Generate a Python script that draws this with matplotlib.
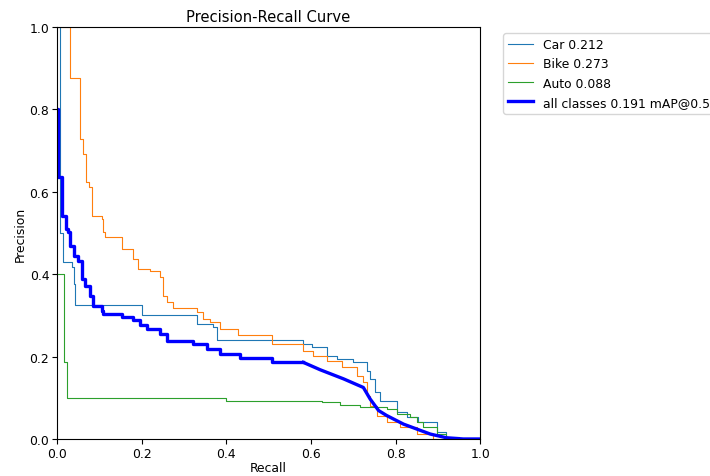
import matplotlib
matplotlib.use("Agg")
import matplotlib.pyplot as plt

# step curves (recall breakpoints, precision held until next breakpoint)
car_r = [0, 0.006, 0.014, 0.035, 0.039, 0.043, 0.2, 0.33, 0.369, 0.377, 0.582, 0.602, 0.638, 0.661,
         0.70, 0.732, 0.74, 0.752, 0.764, 0.803, 0.827, 0.853, 0.898, 0.92, 0.95, 1.0]
car_p = [1.0, 0.50, 0.43, 0.417, 0.376, 0.325, 0.30, 0.279, 0.272, 0.241, 0.23, 0.223, 0.202, 0.194,
         0.187, 0.166, 0.146, 0.114, 0.093, 0.065, 0.053, 0.041, 0.017, 0.005, 0.0, 0.0]

bike_r = [0, 0.031, 0.054, 0.061, 0.069, 0.076, 0.083, 0.106, 0.108, 0.113, 0.153, 0.18, 0.192, 0.22,
          0.243, 0.25, 0.259, 0.275, 0.33, 0.346, 0.362, 0.385, 0.428, 0.507, 0.582, 0.606, 0.638,
          0.673, 0.708, 0.723, 0.732, 0.74, 0.756, 0.779, 0.811, 0.85, 0.889, 1.0]
bike_p = [1.0, 0.876, 0.728, 0.692, 0.624, 0.612, 0.542, 0.534, 0.502, 0.49, 0.461, 0.437, 0.413, 0.409,
          0.393, 0.348, 0.332, 0.318, 0.308, 0.291, 0.283, 0.267, 0.252, 0.23, 0.214, 0.202, 0.19,
          0.175, 0.154, 0.138, 0.105, 0.081, 0.057, 0.041, 0.029, 0.012, 0.0, 0.0]

auto_r = [0, 0.0165, 0.023, 0.40, 0.626, 0.669, 0.716, 0.779, 0.803, 0.835, 0.85, 0.866, 0.898, 0.92, 1.0]
auto_p = [0.40, 0.187, 0.099, 0.093, 0.089, 0.083, 0.077, 0.073, 0.061, 0.053, 0.041, 0.029, 0.012, 0.0, 0.0]

# all classes: stepped head, smooth tail
all_r = [0, 0.003, 0.0125, 0.021, 0.027, 0.031, 0.039, 0.05, 0.058, 0.066, 0.078, 0.086, 0.106, 0.109,
         0.153, 0.18, 0.196, 0.212, 0.243, 0.259, 0.322, 0.354, 0.385, 0.433, 0.507, 0.582]
all_p = [0.80, 0.636, 0.542, 0.51, 0.502, 0.469, 0.445, 0.433, 0.388, 0.372, 0.348, 0.324, 0.311, 0.303,
         0.297, 0.288, 0.277, 0.267, 0.255, 0.239, 0.231, 0.218, 0.206, 0.197, 0.186, 0.186]
all_tail_r = [0.582, 0.622, 0.677, 0.724, 0.74, 0.76, 0.779, 0.819, 0.882, 0.92, 0.96, 1.0]
all_tail_p = [0.186, 0.168, 0.146, 0.125, 0.097, 0.069, 0.057, 0.036, 0.012, 0.003, 0.0, 0.0]

labels = ["Car 0.212", "Bike 0.273", "Auto 0.088", "all classes 0.191 mAP@0.5"]
fs = 8.9

fig = plt.figure(figsize=(7.1, 4.77), dpi=100)
ax = fig.add_axes([0.0803, 0.0776, 0.596, 0.8636])

ax.step(car_r, car_p, where="post", linewidth=0.8, color="tab:blue", label=labels[0])
ax.step(bike_r, bike_p, where="post", linewidth=0.8, color="tab:orange", label=labels[1])
ax.step(auto_r, auto_p, where="post", linewidth=0.8, color="tab:green", label=labels[2])
ax.step(all_r, all_p, where="post", linewidth=2.4, color="blue", label=labels[3])
ax.plot(all_tail_r, all_tail_p, linewidth=2.4, color="blue")

ax.set_xlim(0, 1)
ax.set_ylim(0, 1)
ax.set_xlabel("Recall", fontsize=fs, labelpad=1)
ax.set_ylabel("Precision", fontsize=fs, labelpad=2)
ax.set_title("Precision-Recall Curve", fontsize=10.6, pad=4)
ax.tick_params(labelsize=fs, pad=2)
ax.legend(bbox_to_anchor=(1.04, 1), loc="upper left", fontsize=fs)

fig.savefig("out.png", dpi=100)
